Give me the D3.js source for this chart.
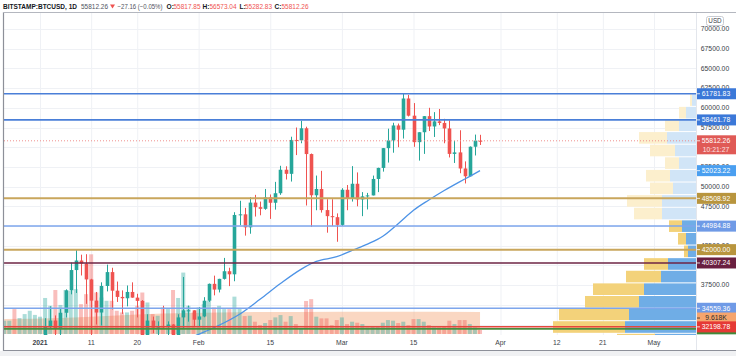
<!DOCTYPE html>
<html><head><meta charset="utf-8">
<script src="https://cdn.jsdelivr.net/npm/d3@7"></script>
<style>
body{margin:0;background:#fff;}
svg{display:block;font-family:"Liberation Sans",Arial,sans-serif;}
</style>
</head><body>
<svg id="c" width="736" height="356"></svg>
<script>
// ---------------- DATA ----------------
const firstDay = "2020-12-25"; // consecutive daily candles
const opens = [23730,24710,26490,26280,27040,27370,28880,
28990,29410,32200,33000,31990,33990,36830,39410,40620,40240,
38220,35530,34020,37390,39150,36790,36000,35830,36630,35910,
35500,30830,33000,32090,32280,32260,32500,30400,33400,34300,34300,
33110,33520,35520,37660,36930,38290,39260,38870,46400,46480,
44830,47970,47390,47180,48630,47950,49160,52140,51620,55920,
55870,57400,54130,48900,49700,47020,46250,46120,
45140,49600,48430,50360,48370,48760,48880,50970,52370,54880,
55860,57760,57220,61180,59000,55640,56900,58940,57630,58280,
58080,57380,54150,54340,52300,51310,55060,55817.85];
const highs = [24790,26870,28420,27460,27380,28990,29300,
29680,33300,34800,33650,34460,36960,40360,41950,41360,41420,
38300,36630,37850,40100,39700,37950,36830,37450,37850,36400,
35600,33800,33500,32900,34880,32900,32550,33800,38530,34900,34300,
34700,35970,37700,38700,38300,40950,39700,46750,48200,47300,
48650,48950,48100,49700,49000,50600,52640,52580,56330,57500,
58350,57600,54200,51400,52000,48400,48400,46600,
49800,50200,52600,51800,49300,49200,51400,52400,54900,57350,
58100,58000,61781.83,61640,60600,56900,58950,60000,59450,59850,
58600,58400,55800,57150,53200,55100,56600,56573.04];
const lows = [23460,24500,25860,26120,25880,27340,27850,
28700,28950,32000,27730,29900,33400,36330,36500,38720,35120,
30400,32500,32380,36700,34400,35360,33850,34800,35900,33400,
30070,28800,31400,30950,31930,30850,29240,29850,31950,32860,32300,
32300,33420,35370,36200,36570,38200,37370,37990,45100,43780,
44020,46200,46360,47060,45900,47080,48950,50900,50640,54000,
55500,47600,44900,47000,46700,44150,45000,43000,
45000,47000,48100,47500,46250,47100,48880,49300,51900,53050,
54300,55000,56100,58900,55050,53300,54150,57050,56300,57800,
55500,53700,53000,51700,50400,51300,53950,55282.83];
const closes = [24710,26490,26280,27040,27370,28880,28990,
29410,32200,33000,31990,33990,36830,39410,40620,40240,38220,
35530,34020,37390,39150,36790,36000,35830,36630,35910,35500,
30830,33000,32090,32280,32260,32500,30400,33400,34300,34300,33110,
33520,35520,37660,36930,38290,39260,38870,46400,46480,44830,
47970,47390,47180,48630,47950,49160,52140,51620,55920,55870,
57400,54130,48900,49700,47020,46250,46120,45140,
49600,48430,50360,48370,48760,48880,50970,52370,54880,55860,
57760,57220,61180,59000,55640,56900,58940,57630,58280,58080,
57380,54150,54340,52300,51310,55060,55840,55812.26];
// volume in thousands
const volumes = [8,8,15,9.6,12,14,11.5,
10.4,21.7,17,26.5,17.5,26.5,26,27,18,24,
48,25,22,20,20,14,13,13,14,17,
25,19,12,11,16,15,26.5,21.7,37,17,13,
16,18,20,16,17,15,15,22.5,15.7,10.8,
11,7.4,5.4,6.6,8.4,10,11.4,7.4,10.8,6,
3.6,19.9,21,10.4,9.4,9.4,5.4,8.4,
10,6,7.4,6.8,6,4,4.8,4.2,6.8,8.4,
8,6.6,7.4,5.4,9,9,7.4,5.4,4,4,
4.8,8,6,8.4,8.4,6,4,2.4];
const lastVolumeLabel = 9.618;

const volMaDates = ["2020-12-25","2021-01-05","2021-01-15","2021-01-25","2021-02-05","2021-02-20","2021-03-10","2021-03-28"];
const volMaValues = [9,9.6,11,12.3,13,13.3,13.4,13.2];

const maDates = ["2021-01-26","2021-02-01","2021-02-05","2021-02-09","2021-02-13","2021-02-17","2021-02-21","2021-02-24","2021-02-28","2021-03-03","2021-03-06","2021-03-09","2021-03-12","2021-03-15","2021-03-18","2021-03-21","2021-03-24","2021-03-26","2021-03-28"];
const maValues = [29700,31250,32400,33800,35700,37700,39500,40500,41100,41900,42700,43700,45300,47000,48300,49500,50600,51300,52023.22];

const priceTicks = [70000,67500,65000,62500,60000,57500,55000,52500,50000,47500,45000,42500,40000,37500,35000,32500];
const tickDates = ["2021-01-01","2021-01-11","2021-01-20","2021-02-01","2021-02-15","2021-03-01","2021-03-15","2021-04-01","2021-04-12","2021-04-21","2021-05-01"];
const tickLabels = ["2021","11","20","Feb","15","Mar","15","Apr","12","21","May"];

const levelPrices = [61781.83,58461.78,48508.92,44984.88,42000.00,40307.24,34559.36,31950,32198.78];
const currentPrice = 55812.26;
const countdown = "10:21:27";
const headerChange = "\u221227.16 (\u22120.05%)";

const profileTops = [61782,60182,58582,56982,55382,53782,52182,50582,48982,47382,45782,44182,42582,40982,39382,37782,36182,34582,32982,31382];
const profileBin = 1600;
const profileUp = [4,10,17,29,21,17,26,23,34,34,14,10,8,28,35,52,57,67,71,41];
const profileDown = [2,7,14,28,25,14,24,23,35,28,13,8,4,24,35,51,54,70,72,38];
const valueAreaHigh = 45782;

// ---------------- STYLES ----------------
const levelStyle = [
 {line:"#4a7fd8",w:1.6,tag:"#3b78d8",text:"#fff"},
 {line:"#4a7fd8",w:1.6,tag:"#3b78d8",text:"#fff"},
 {line:"#c9a65c",w:2,tag:"#b8953e",text:"#fff"},
 {line:"#7ea6ec",w:1.5,tag:"#6f9ae6",text:"#fff"},
 {line:"#c9a65c",w:2,tag:"#b8953e",text:"#fff"},
 {line:"#6e2444",w:1.5,tag:"#6a1f40",text:"#fff"},
 {line:"#7ea6ec",w:1.5,tag:"#6f9ae6",text:"#fff"},
 {line:"#4a8c3e",w:1.8,tag:"#3f8a3a",text:"#fff"},
 {line:"#e5473d",w:1.5,tag:"#e53935",text:"#fff"}
];
const UP="#26a69a", DOWN="#ef5350";

// ---------------- CHART ----------------
const svg = d3.select("#c");
const L=4, R=696, T=12.5, B=335;
const parse = d3.utcParse("%Y-%m-%d");
const d0 = parse(firstDay);
const dates = closes.map((_,i)=>d3.utcDay.offset(d0,i));
const x = d3.scaleUtc().domain([parse("2021-01-01"),parse("2021-05-01")]).range([40,654]);
const y = d3.scaleLinear().domain([32500,70000]).range([324.5,29]);
const yVol = d3.scaleLinear().domain([0,50]).range([334,251]);
const wProf = d3.scaleLinear().domain([0,150]).range([0,150]);

svg.append("rect").attr("width",736).attr("height",356).attr("fill","#fff");
svg.append("defs").append("clipPath").attr("id","clip")
  .append("rect").attr("x",L).attr("y",T).attr("width",R-L).attr("height",B-T);

const plot = svg.append("g").attr("clip-path","url(#clip)");

// grid
plot.selectAll(".vg").data(tickDates).join("line")
  .attr("x1",d=>x(parse(d))+0.5).attr("x2",d=>x(parse(d))+0.5).attr("y1",T).attr("y2",B)
  .attr("stroke","#eff1f5").attr("stroke-width",1);
plot.selectAll(".hg").data(priceTicks).join("line")
  .attr("x1",L).attr("x2",R).attr("y1",d=>Math.round(y(d))+0.5).attr("y2",d=>Math.round(y(d))+0.5)
  .attr("stroke","#eff1f5").attr("stroke-width",1);

// volume profile
const prof = plot.append("g");
profileTops.forEach((top,i)=>{
  const y0=y(top), y1=y(top-profileBin);
  const inVA = top<=valueAreaHigh;
  const wb=wProf(profileUp[i]), wy=wProf(profileDown[i]);
  prof.append("rect").attr("x",R-wb).attr("width",wb).attr("y",y0+0.5).attr("height",y1-y0-1)
    .attr("fill",inVA?"#6fade6":"#d1e5f7");
  prof.append("rect").attr("x",R-wb-wy).attr("width",wy).attr("y",y0+0.5).attr("height",y1-y0-1)
    .attr("fill",inVA?"#f3d27a":"#fcefcd");
});

// volume MA band
const band = d3.area().x(d=>x(parse(d[0]))).y0(yVol(0)).y1(d=>yVol(d[1])).curve(d3.curveMonotoneX);
plot.append("path").datum(volMaDates.map((d,i)=>[d,volMaValues[i]]))
  .attr("d",band).attr("fill","rgba(244,160,110,0.42)");

// volume bars
plot.selectAll(".vol").data(volumes).join("rect")
  .attr("x",(d,i)=>x(dates[i])-2).attr("width",4)
  .attr("y",d=>yVol(d)).attr("height",d=>yVol(0)-yVol(d))
  .attr("fill",(d,i)=>closes[i]>=opens[i]?"rgba(38,166,154,0.38)":"rgba(239,83,80,0.38)");

// candles
const cg = plot.append("g");
dates.forEach((dt,i)=>{
  const cx=Math.round(x(dt))+0.5;
  const col=closes[i]>=opens[i]?UP:DOWN;
  cg.append("line").attr("x1",cx).attr("x2",cx).attr("y1",y(highs[i])).attr("y2",y(lows[i]))
    .attr("stroke",col).attr("stroke-width",1);
  const yt=y(Math.max(opens[i],closes[i])), yb=y(Math.min(opens[i],closes[i]));
  cg.append("rect").attr("x",cx-1.8).attr("width",3.6).attr("y",yt).attr("height",Math.max(1,yb-yt)).attr("fill",col);
});

// MA line
plot.append("path").datum(maDates.map((d,i)=>[parse(d),maValues[i]]))
  .attr("d",d3.line().x(d=>x(d[0])).y(d=>y(d[1])).curve(d3.curveMonotoneX))
  .attr("fill","none").attr("stroke","#4d93e6").attr("stroke-width",1.3);

// current price dotted
plot.append("line").attr("x1",L).attr("x2",R).attr("y1",y(currentPrice)).attr("y2",y(currentPrice))
  .attr("stroke","#ef8f8c").attr("stroke-width",1).attr("stroke-dasharray","1,2");

// horizontal levels
levelPrices.forEach((p,i)=>{
  const s=levelStyle[i];
  plot.append("line").attr("x1",L).attr("x2",R).attr("y1",y(p)).attr("y2",y(p))
    .attr("stroke",s.line).attr("stroke-width",s.w);
});

// ---------- right axis ----------
svg.append("line").attr("x1",R+0.5).attr("x2",R+0.5).attr("y1",T).attr("y2",350).attr("stroke","#e3e6ec");
// tag centres (for hiding fully-covered tick labels)
const tagCentres = levelPrices.map(p=>y(p)).concat([y(currentPrice)+4, y(maValues[maValues.length-1]), yVol(lastVolumeLabel)]);
const visibleTicks = priceTicks.filter(t=>tagCentres.every(c=>Math.abs(c-y(t))>3.5));
svg.selectAll(".pt").data(visibleTicks).join("text")
  .attr("x",715).attr("y",d=>y(d)).attr("dy","0.35em").attr("text-anchor","middle")
  .attr("font-size",6.8).attr("fill","#3a3e48").text(d=>d3.format(".2f")(d));
// USD box
svg.append("rect").attr("x",706.5).attr("y",16.5).attr("width",17).attr("height",9).attr("rx",2)
  .attr("fill","#fff").attr("stroke","#c8cbd2");
svg.append("text").attr("x",715).attr("y",21).attr("dy","0.35em").attr("text-anchor","middle")
  .attr("font-size",6.3).attr("fill","#3a3e48").text("USD");

function tag(yc,fill,txt,col,h){
  h=h||11;
  svg.append("rect").attr("x",697).attr("y",yc-h/2).attr("width",39).attr("height",h).attr("fill",fill);
  svg.append("line").attr("x1",697).attr("x2",700).attr("y1",yc).attr("y2",yc).attr("stroke",col).attr("stroke-width",0.8);
  svg.append("text").attr("x",716).attr("y",yc).attr("dy","0.35em").attr("text-anchor","middle")
    .attr("font-size",6.8).attr("fill",col).text(txt);
}
levelPrices.forEach((p,i)=>{
  if(i===7){ // green line: only strip visible under red tag
    svg.append("rect").attr("x",697).attr("y",y(p)-5.5).attr("width",39).attr("height",11).attr("fill",levelStyle[i].tag);
    return;
  }
  if(i===8) return;
  tag(y(p),levelStyle[i].tag,d3.format(".2f")(p),levelStyle[i].text);
});
tag(y(maValues[maValues.length-1]),"#4a9ff0",d3.format(".2f")(maValues[maValues.length-1]),"#fff");
tag(yVol(lastVolumeLabel),"#f6a56d",d3.format(".3f")(lastVolumeLabel)+"K","#2a2a2a");
tag(y(levelPrices[8]),levelStyle[8].tag,d3.format(".2f")(levelPrices[8]),"#fff");
{
  const yc=y(currentPrice);
  svg.append("rect").attr("x",697).attr("y",yc-5.5).attr("width",39).attr("height",19).attr("fill","#e05a56");
  svg.append("line").attr("x1",697).attr("x2",700).attr("y1",yc).attr("y2",yc).attr("stroke","#fff").attr("stroke-width",0.8);
  svg.append("text").attr("x",716).attr("y",yc).attr("dy","0.35em").attr("text-anchor","middle")
    .attr("font-size",6.8).attr("fill","#fff").text(d3.format(".2f")(currentPrice));
  svg.append("text").attr("x",716).attr("y",yc+8.5).attr("dy","0.35em").attr("text-anchor","middle")
    .attr("font-size",6.8).attr("fill","#fde4e3").text(countdown);
}

// ---------- x axis ----------
svg.selectAll(".xt").data(tickDates).join("text")
  .attr("x",d=>x(parse(d))).attr("y",342.5).attr("dy","0.35em").attr("text-anchor","middle")
  .attr("font-size",6.8).attr("font-weight",(d,i)=>i===0?"bold":"normal")
  .attr("fill","#3a3e48").text((d,i)=>tickLabels[i]);

// ---------- frame ----------
svg.append("rect").attr("x",0).attr("y",351).attr("width",736).attr("height",5).attr("fill","#f0f1f3");
svg.append("line").attr("x1",3.5).attr("x2",3.5).attr("y1",12).attr("y2",351).attr("stroke","#8d9099").attr("stroke-width",1.2);
svg.append("line").attr("x1",3).attr("x2",736).attr("y1",12.5).attr("y2",12.5).attr("stroke","#b4b7bf").attr("stroke-width",1);
svg.append("line").attr("x1",3).attr("x2",736).attr("y1",350.5).attr("y2",350.5).attr("stroke","#8d9099").attr("stroke-width",1.2);

// ---------- header ----------
const hdr = svg.append("g").attr("font-size",6.6);
hdr.append("text").attr("x",3).attr("y",8.5).attr("font-weight","bold").attr("fill","#131722")
  .attr("textLength",74).attr("lengthAdjust","spacingAndGlyphs").text("BITSTAMP:BTCUSD, 1D");
hdr.append("text").attr("x",81).attr("y",8.5).attr("fill","#50535e")
  .attr("textLength",27).attr("lengthAdjust","spacingAndGlyphs").text(d3.format(".2f")(closes[closes.length-1]));
hdr.append("path").attr("d","M110,4.5 L115,4.5 L112.5,8.5 Z").attr("fill","#ef5350");
hdr.append("text").attr("x",117.5).attr("y",8.5).attr("fill","#50535e")
  .attr("textLength",45).attr("lengthAdjust","spacingAndGlyphs").text(headerChange);
const ohlc=[["O:",166.5,opens],["H:",202.5,highs],["L:",239.5,lows],["C:",274.5,closes]];
ohlc.forEach(([k,px,arr])=>{
  hdr.append("text").attr("x",px).attr("y",8.5).attr("font-weight","bold").attr("fill","#131722").text(k);
  hdr.append("text").attr("x",px+(k==="L:"?5.5:7)).attr("y",8.5).attr("fill","#ef5350")
    .attr("textLength",27).attr("lengthAdjust","spacingAndGlyphs").text(d3.format(".2f")(arr[arr.length-1]));
});
</script>
</body></html>
